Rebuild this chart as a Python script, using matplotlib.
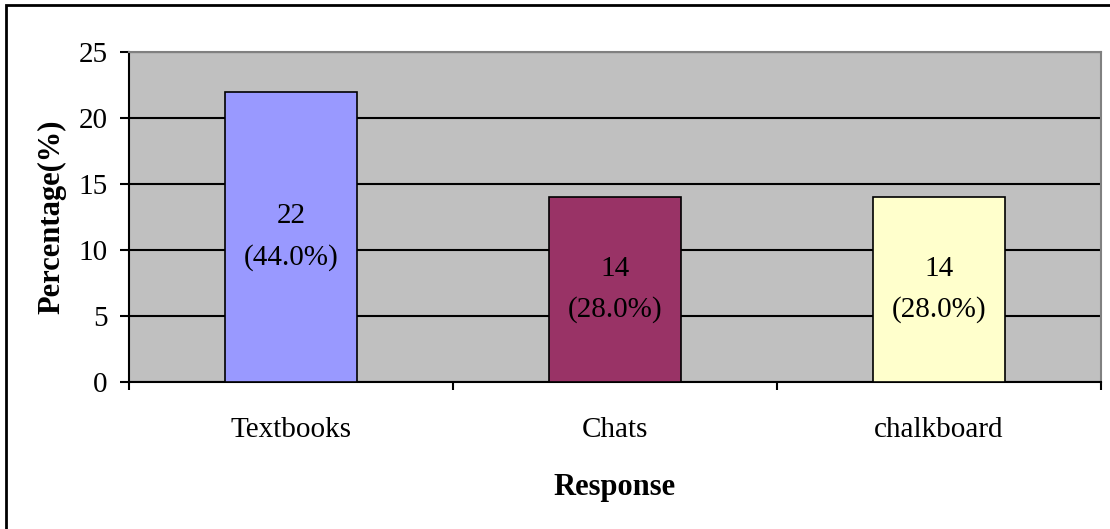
import matplotlib
matplotlib.use("Agg")
import matplotlib.pyplot as plt
from matplotlib.patches import Rectangle

# chart data
categories = ['Textbooks', 'Chats', 'chalkboard']
counts = [22, 14, 14]
shares = [44.0, 28.0, 28.0]
bar_colors = ['#9999FF', '#993366', '#FFFFCC']
y_ticks = [0, 5, 10, 15, 20, 25]

plt.rcParams['font.family'] = ['Liberation Serif', 'DejaVu Serif']

fig = plt.figure(figsize=(11.1, 5.29), dpi=100)
ax = fig.add_axes([129 / 1110, 1 - 382 / 529, 972 / 1110, 330 / 529])
ax.set_facecolor('#C0C0C0')

x = list(range(len(categories)))
ax.set_axisbelow(True)
ax.yaxis.grid(True, color='black', linewidth=1.5)
bars = ax.bar(x, counts, width=0.405, color=bar_colors, edgecolor='black',
              linewidth=1.2, zorder=3)

# labels inside the bars: count and share
for xi, c, s in zip(x, counts, shares):
    ax.text(xi, c / 2, f'{c}\n({s:.1f}%)', ha='center', va='center',
            fontsize=21, linespacing=1.72, zorder=4)

ax.set_xlim(-0.5, len(categories) - 0.5)
ax.set_ylim(0, 25)
ax.set_yticks(y_ticks)
ax.tick_params(axis='y', labelsize=21, length=6.5, width=1.5, pad=9)

ax.set_xticks(x)
ax.set_xticklabels(categories)
ax.tick_params(axis='x', which='major', labelsize=21, length=0, pad=25)
ax.set_xticks([i - 0.5 for i in range(len(categories) + 1)], minor=True)
ax.tick_params(axis='x', which='minor', length=6, width=1.5, direction='out')

for side in ['left', 'bottom']:
    ax.spines[side].set_color('black')
    ax.spines[side].set_linewidth(1.5)
for side in ['top', 'right']:
    ax.spines[side].set_color('#808080')
    ax.spines[side].set_linewidth(1.5)

ax.set_xlabel('Response', fontsize=22, fontweight='bold')
ax.xaxis.set_label_coords(0.5, -0.277)
ax.set_ylabel('Percentage(%)', fontsize=22, fontweight='bold')
ax.yaxis.set_label_coords(-0.064, 0.5)

# outer chart border (right and bottom edges fall outside the image)
fig.patches.append(Rectangle((6 / 1110, -0.05), 1.1, 1.05 - 5 / 529,
                             transform=fig.transFigure, fill=False,
                             edgecolor='black', linewidth=2))

fig.savefig('out.png', dpi=100)
